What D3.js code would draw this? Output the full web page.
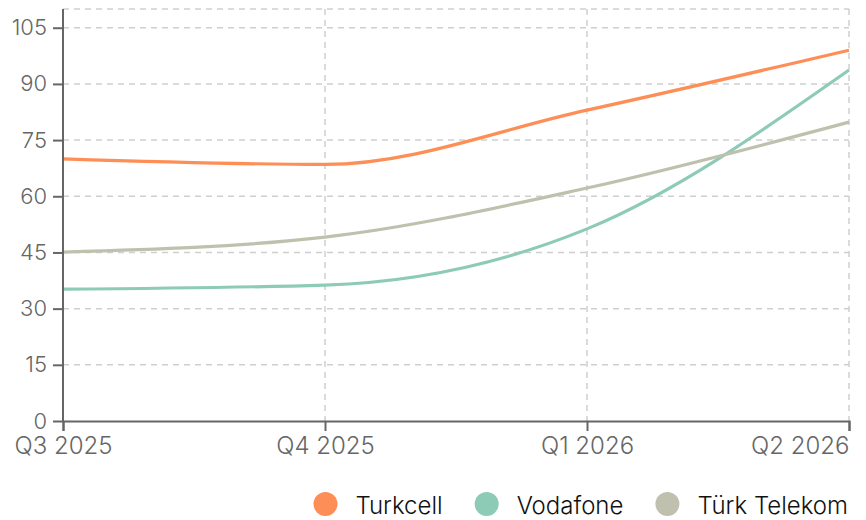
<!DOCTYPE html>
<html><head><meta charset="utf-8">
<script src="https://cdn.jsdelivr.net/npm/d3@7"></script>
<style>body{margin:0;background:#fff;font-family:Inter,"Noto Sans",sans-serif;}</style>
</head><body><svg id="c" width="866" height="520"></svg>
<script>
const quarters = ["Q3 2025","Q4 2025","Q1 2026","Q2 2026"];
const seriesNames = ["Turkcell","Vodafone","Türk Telekom"];
const turkcell = [70, 68.5, 83, 99];
const vodafone = [35.2, 36.3, 51.3, 93.7];
const turkTelekom = [45.1, 49.1, 62.2, 79.8];
const yTicks = [0,15,30,45,60,75,90,105];
const colors = ["#fd8e55","#8ecbb7","#bfc1ae"];
const series = [turkcell, vodafone, turkTelekom];

const svg = d3.select("#c");
const m = {l:63, r:17, t:9, b:99};
const W = 866, H = 520;
const x = d3.scalePoint().domain(quarters).range([m.l, W-m.r]);
const y = d3.scaleLinear().domain([0,110]).range([H-m.b, m.t]);

const grid = svg.append("g").attr("stroke","#cfcfcf").attr("stroke-width",1.5).attr("stroke-dasharray","6,5");
[...yTicks.slice(1), 110].forEach(v=>grid.append("line").attr("x1",m.l).attr("x2",W-m.r).attr("y1",y(v)).attr("y2",y(v)));
quarters.slice(1).forEach(q=>grid.append("line").attr("x1",x(q)).attr("x2",x(q)).attr("y1",m.t).attr("y2",H-m.b));

const line = d3.line().x((d,i)=>x(quarters[i])).y(d=>y(d)).curve(d3.curveMonotoneX);
series.forEach((s,i)=>svg.append("path").attr("d",line(s)).attr("fill","none").attr("stroke",colors[i]).attr("stroke-width",3.2));

const yAxis = svg.append("g").attr("transform",`translate(${m.l},0)`).call(d3.axisLeft(y).tickValues(yTicks).tickSize(10).tickPadding(6));
const xAxis = svg.append("g").attr("transform",`translate(0,${H-m.b})`).call(d3.axisBottom(x).tickSize(10).tickPadding(6));
[yAxis,xAxis].forEach(a=>{
  a.selectAll("path,line").attr("stroke","#666").attr("stroke-width",2);
  a.selectAll("text").attr("fill","#666").style("font-family","Inter, sans-serif").style("font-weight","300");
});
yAxis.selectAll("text").style("font-size","22px");
xAxis.selectAll("text").style("font-size","24px");
yAxis.select(".domain").attr("d",`M0,${m.t}V${H-m.b}`);
xAxis.selectAll(".tick text").attr("text-anchor",(d,i)=>i===quarters.length-1?"end":"middle");

const leg = svg.append("g").style("font-size","24px").style("font-family","Inter, sans-serif").style("font-weight","300");
let xr = W - m.r - 1;
const items = seriesNames.map((n,i)=>({n,i})).reverse();
items.forEach(({n,i})=>{
  const t = leg.append("text").attr("y",514).attr("text-anchor","end").attr("x",xr).attr("fill","#111").text(n);
  const w = t.node().getComputedTextLength();
  leg.append("circle").attr("cx",xr-w-30).attr("cy",504).attr("r",12).attr("fill",colors[i]);
  xr = xr - w - 30 - 12 - 32;
});
</script></body></html>
